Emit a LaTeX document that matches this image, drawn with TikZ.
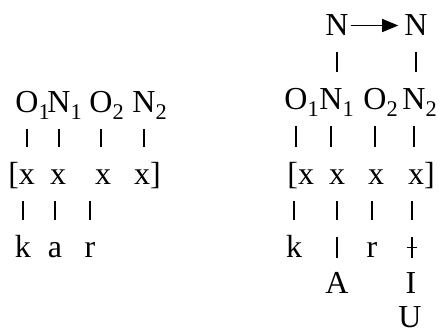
\documentclass[tikz,border=0pt]{standalone}
\usepackage{fontspec}
\setmainfont{Liberation Serif}
\usetikzlibrary{arrows.meta}

\begin{document}
\begin{tikzpicture}[x=1pt,y=-1pt,
  seg/.style={anchor=base,inner sep=0pt,text height=21pt,text depth=0pt,
    font=\fontsize{32}{38}\selectfont},
  tie/.style={line width=1.7pt,shorten <=16pt,shorten >=17pt},
  bar/.style={line width=1.7pt}]
  \useasboundingbox (0,0) rectangle (440,329);
  \node[seg] (lO1) at (27,113) {O\rlap{\textsubscript{1}}};
  \node[seg] (lN1) at (59,113) {N\rlap{\textsubscript{1}}};
  \node[seg] (lO2) at (101,113) {O\rlap{\textsubscript{2}}};
  \node[seg] (lN2) at (144,113) {N\rlap{\textsubscript{2}}};
  \node[seg] (lx1) at (27,185) {\llap{[}x};
  \node[seg] (lx2) at (58,185) {x};
  \node[seg] (lx3) at (103,185) {x};
  \node[seg] (lx4) at (142,185) {x\rlap{]}};
  \node[seg] (lk) at (23,258) {k};
  \node[seg] (la) at (55,258) {a};
  \node[seg] (lr) at (90,258) {r};
  \draw[tie] (lO1.south) -- (lO1.south |- lx1.north);
  \draw[tie] (lN1.south) -- (lN1.south |- lx2.north);
  \draw[tie] (lO2.south) -- (lO2.south |- lx3.north);
  \draw[tie] (lN2.south) -- (lN2.south |- lx4.north);
  \draw[tie] (lx1.south -| lk) -- (lk.north);
  \draw[tie] (lx2.south -| la) -- (la.north);
  \draw[tie] (lx3.south -| lr) -- (lr.north);
  \node[seg] (rNa) at (337,36) {N};
  \node[seg] (rNb) at (416,36) {N};
  \node[seg] (rO1) at (296,110) {O\rlap{\textsubscript{1}}};
  \node[seg] (rN1) at (331,110) {N\rlap{\textsubscript{1}}};
  \node[seg] (rO2) at (375,110) {O\rlap{\textsubscript{2}}};
  \node[seg] (rN2) at (414,110) {N\rlap{\textsubscript{2}}};
  \node[seg] (rx1) at (306,185) {\llap{[}x};
  \node[seg] (rx2) at (337,185) {x};
  \node[seg] (rx3) at (376,185) {x};
  \node[seg] (rx4) at (416,185) {x\rlap{]}};
  \node[seg] (rk) at (294,258) {k};
  \node[seg] (rv) at (337,258) {};
  \node[seg] (rr) at (372,258) {r};
  \node[seg] (rc) at (412,258) {};
  \node[seg] (rA) at (337,293) {A};
  \node[seg] (rI) at (411,293) {I};
  \node[seg] (rU) at (410,327) {U};
  \draw[line width=1pt,shorten <=2pt,shorten >=6pt,
    -{Triangle[length=16pt,width=13pt]}] (rNa.east) -- (rNb.west);
  \draw[tie] (rNa.south) -- (rNa.south |- rN1.north);
  \draw[tie] (rNb.south) -- (rNb.south |- rN2.north);
  \draw[tie] (rO1.south) -- (rO1.south |- rx1.north);
  \draw[tie] (rN1.south) -- (rN1.south |- rx2.north);
  \draw[tie] (rO2.south) -- (rO2.south |- rx3.north);
  \draw[tie] (rN2.south) -- (rN2.south |- rx4.north);
  \draw[tie] (rx1.south -| rk) -- (rk.north);
  \draw[tie] (rx2.south -| rv) -- (rv.north);
  \draw[tie] (rx3.south -| rr) -- (rr.north);
  \draw[tie] (rx4.south -| rc) -- (rc.north);
  \draw[bar] (rv.north) -- (rv.south);
  \draw[bar] (rc.north) -- (rc.south) node[midway,minimum width=9pt,inner sep=0pt] (rcx) {};
  \draw[bar] (rcx.west) -- (rcx.east);
\end{tikzpicture}
\end{document}
